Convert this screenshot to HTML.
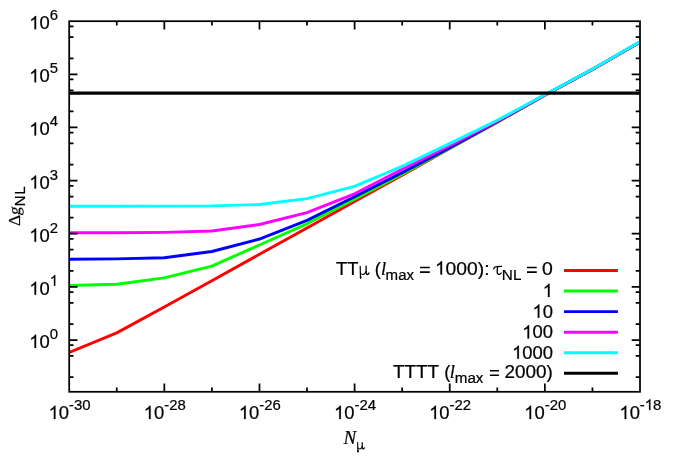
<!DOCTYPE html>
<html><head><meta charset="utf-8"><title>plot</title>
<style>html,body{margin:0;padding:0;background:#fff;overflow:hidden}svg{display:block;will-change:transform}text{font-family:"Liberation Sans",sans-serif;fill:#000;stroke:#000;stroke-width:0.22px;stroke-linejoin:round}.se{font-family:"Liberation Serif",serif}.it{font-family:"Liberation Serif",serif;font-style:italic}</style></head><body>
<svg width="674" height="471" viewBox="0 0 674 471">
<rect x="0" y="0" width="674" height="471" fill="#ffffff"/>
<defs><path id="one" d="M763 0H583V1147Q518 1085 412.5 1023Q307 961 223 930V1104Q374 1175 487 1276Q600 1377 647 1472H763Z" fill="#000" stroke="#000" stroke-linejoin="round"/><g id="mu" fill="none" stroke="#000" stroke-linecap="round" stroke-linejoin="round"><path d="M0.6,-8.3L0.78,-1C0.82,0.6 0.9,2.3 1.0,3.4" stroke-width="1.2"/><path d="M0.95,2.2L1.05,3.5" stroke-width="1.6"/><path d="M0.78,-2C0.95,-0.6 2.0,0 3.2,0C4.6,0 5.8,-1.4 6.35,-3.2" stroke-width="1.05"/><path d="M6.5,-8.3L6.6,-1.7C6.65,-0.45 7.1,-0.05 7.8,-0.05C8.5,-0.05 9.0,-0.6 9.3,-1.6" stroke-width="1.3"/></g><g id="mus" fill="none" stroke="#000" stroke-linecap="round" stroke-linejoin="round"><path d="M0.6,-8.3L0.78,-1C0.82,0.6 0.9,2.3 1.0,3.4" stroke-width="1.45"/><path d="M0.95,2.2L1.05,3.5" stroke-width="1.9"/><path d="M0.78,-2C0.95,-0.6 2.0,0 3.2,0C4.6,0 5.8,-1.4 6.35,-3.2" stroke-width="1.3"/><path d="M6.5,-8.3L6.6,-1.7C6.65,-0.45 7.1,-0.05 7.8,-0.05C8.5,-0.05 9.0,-0.6 9.3,-1.6" stroke-width="1.55"/></g><g id="tau" fill="none" stroke="#000" stroke-linecap="round" stroke-linejoin="round"><path d="M0.45,-5.7C0.95,-7.2 1.8,-7.85 3.2,-7.9L8.3,-8.25" stroke-width="1.35"/><path d="M4.4,-7.7C4.1,-5.5 3.9,-3.6 4.0,-2.3C4.1,-0.7 4.9,-0.1 5.9,-0.1C6.9,-0.1 7.6,-0.6 8.0,-1.5" stroke-width="1.3"/></g></defs>
<clipPath id="cp"><rect x="69.2" y="21.2" width="570.80" height="370.60"/></clipPath>
<g clip-path="url(#cp)" fill="none" stroke-linejoin="round" stroke-linecap="butt">
<polyline points="69.20,352.40 116.77,332.90 164.33,307.05 211.90,280.70 259.47,254.30 307.03,227.95 354.60,201.55 402.17,175.30 449.73,148.50 497.30,122.10 544.87,95.10 592.43,69.45 640.00,42.10" stroke="#ff0000" stroke-width="2.95"/>
<polyline points="69.20,285.50 116.77,284.30 164.33,277.90 211.90,266.10 259.47,245.00 307.03,223.80 354.60,199.20 402.17,174.20 449.73,148.20 497.30,122.00 544.87,95.08 592.43,69.43 640.00,42.08" stroke="#00ff00" stroke-width="2.95"/>
<polyline points="69.20,259.30 116.77,258.90 164.33,257.70 211.90,251.55 259.47,239.05 307.03,220.40 354.60,196.80 402.17,172.60 449.73,147.80 497.30,121.80 544.87,95.05 592.43,69.42 640.00,42.06" stroke="#0000ff" stroke-width="2.95"/>
<polyline points="69.20,232.80 116.77,232.80 164.33,232.40 211.90,231.00 259.47,224.55 307.03,212.65 354.60,193.80 402.17,169.30 449.73,145.80 497.30,121.30 544.87,95.00 592.43,69.40 640.00,42.05" stroke="#ff00ff" stroke-width="2.95"/>
<polyline points="69.20,206.20 116.77,206.20 164.33,206.10 211.90,205.90 259.47,204.50 307.03,198.65 354.60,186.40 402.17,166.30 449.73,143.70 497.30,120.30 544.87,94.80 592.43,69.25 640.00,41.90" stroke="#00ffff" stroke-width="2.95"/>
<line x1="69.2" y1="93.1" x2="640.0" y2="93.1" stroke="#000" stroke-width="3.1"/>
</g>
<path d="M116.77,391.8v-4.3M116.77,21.2v4.3M164.33,391.8v-8.3M164.33,21.2v8.3M211.90,391.8v-4.3M211.90,21.2v4.3M259.47,391.8v-8.3M259.47,21.2v8.3M307.03,391.8v-4.3M307.03,21.2v4.3M354.60,391.8v-8.3M354.60,21.2v8.3M402.17,391.8v-4.3M402.17,21.2v4.3M449.73,391.8v-8.3M449.73,21.2v8.3M497.30,391.8v-4.3M497.30,21.2v4.3M544.87,391.8v-8.3M544.87,21.2v8.3M592.43,391.8v-4.3M592.43,21.2v4.3M69.2,377.14h4.3M640.0,377.14h-4.3M69.2,355.99h4.3M640.0,355.99h-4.3M69.2,345.15h4.3M640.0,345.15h-4.3M69.2,340.00h8.3M640.0,340.00h-8.3M69.2,324.01h4.3M640.0,324.01h-4.3M69.2,302.86h4.3M640.0,302.86h-4.3M69.2,292.02h4.3M640.0,292.02h-4.3M69.2,286.87h8.3M640.0,286.87h-8.3M69.2,270.87h4.3M640.0,270.87h-4.3M69.2,249.73h4.3M640.0,249.73h-4.3M69.2,238.88h4.3M640.0,238.88h-4.3M69.2,233.73h8.3M640.0,233.73h-8.3M69.2,217.74h4.3M640.0,217.74h-4.3M69.2,196.59h4.3M640.0,196.59h-4.3M69.2,185.75h4.3M640.0,185.75h-4.3M69.2,180.60h8.3M640.0,180.60h-8.3M69.2,164.61h4.3M640.0,164.61h-4.3M69.2,143.46h4.3M640.0,143.46h-4.3M69.2,132.62h4.3M640.0,132.62h-4.3M69.2,127.47h8.3M640.0,127.47h-8.3M69.2,111.47h4.3M640.0,111.47h-4.3M69.2,90.33h4.3M640.0,90.33h-4.3M69.2,79.48h4.3M640.0,79.48h-4.3M69.2,74.33h8.3M640.0,74.33h-8.3M69.2,58.34h4.3M640.0,58.34h-4.3M69.2,37.19h4.3M640.0,37.19h-4.3M69.2,26.35h4.3M640.0,26.35h-4.3" stroke="#000" stroke-width="1.75" fill="none"/>
<rect x="69.2" y="21.2" width="570.80" height="370.60" fill="none" stroke="#000" stroke-width="1.75"/>
<use href="#one" transform="translate(48.60,419.00) scale(0.008984,-0.008984)" stroke-width="24.5"/><text x="58.83" y="419.00" font-size="18.4">0</text>
<text x="69.07" y="409.90" font-size="14.9">-30</text>
<use href="#one" transform="translate(143.74,419.00) scale(0.008984,-0.008984)" stroke-width="24.5"/><text x="153.97" y="419.00" font-size="18.4">0</text>
<text x="164.20" y="409.90" font-size="14.9">-28</text>
<use href="#one" transform="translate(238.87,419.00) scale(0.008984,-0.008984)" stroke-width="24.5"/><text x="249.10" y="419.00" font-size="18.4">0</text>
<text x="259.33" y="409.90" font-size="14.9">-26</text>
<use href="#one" transform="translate(334.00,419.00) scale(0.008984,-0.008984)" stroke-width="24.5"/><text x="344.23" y="419.00" font-size="18.4">0</text>
<text x="354.47" y="409.90" font-size="14.9">-24</text>
<use href="#one" transform="translate(429.14,419.00) scale(0.008984,-0.008984)" stroke-width="24.5"/><text x="439.37" y="419.00" font-size="18.4">0</text>
<text x="449.60" y="409.90" font-size="14.9">-22</text>
<use href="#one" transform="translate(524.27,419.00) scale(0.008984,-0.008984)" stroke-width="24.5"/><text x="534.50" y="419.00" font-size="18.4">0</text>
<text x="544.73" y="409.90" font-size="14.9">-20</text>
<use href="#one" transform="translate(619.40,419.00) scale(0.008984,-0.008984)" stroke-width="24.5"/><text x="629.63" y="419.00" font-size="18.4">0</text>
<text x="639.87" y="409.90" font-size="14.9">-</text><use href="#one" transform="translate(644.83,409.90) scale(0.007275,-0.007275)" stroke-width="30.2"/><text x="653.11" y="409.90" font-size="14.9">8</text>
<use href="#one" transform="translate(29.25,348.00) scale(0.008984,-0.008984)" stroke-width="24.5"/><text x="39.49" y="348.00" font-size="18.4">0</text>
<text x="49.72" y="338.90" font-size="14.9">0</text>
<use href="#one" transform="translate(29.25,294.87) scale(0.008984,-0.008984)" stroke-width="24.5"/><text x="39.49" y="294.87" font-size="18.4">0</text>
<use href="#one" transform="translate(49.72,285.77) scale(0.007275,-0.007275)" stroke-width="30.2"/>
<use href="#one" transform="translate(29.25,241.73) scale(0.008984,-0.008984)" stroke-width="24.5"/><text x="39.49" y="241.73" font-size="18.4">0</text>
<text x="49.72" y="232.63" font-size="14.9">2</text>
<use href="#one" transform="translate(29.25,188.60) scale(0.008984,-0.008984)" stroke-width="24.5"/><text x="39.49" y="188.60" font-size="18.4">0</text>
<text x="49.72" y="179.50" font-size="14.9">3</text>
<use href="#one" transform="translate(29.25,135.47) scale(0.008984,-0.008984)" stroke-width="24.5"/><text x="39.49" y="135.47" font-size="18.4">0</text>
<text x="49.72" y="126.37" font-size="14.9">4</text>
<use href="#one" transform="translate(29.25,82.33) scale(0.008984,-0.008984)" stroke-width="24.5"/><text x="39.49" y="82.33" font-size="18.4">0</text>
<text x="49.72" y="73.23" font-size="14.9">5</text>
<use href="#one" transform="translate(29.25,29.20) scale(0.008984,-0.008984)" stroke-width="24.5"/><text x="39.49" y="29.20" font-size="18.4">0</text>
<text x="49.72" y="20.10" font-size="14.9">6</text>
<text x="343.6" y="443.9" font-size="19.0" class="it">N</text>
<use href="#mus" transform="translate(357.2,449.0) scale(0.77)"/>
<text transform="translate(19.5,226.0) rotate(-90)" font-size="17.4" class="se">Δ</text>
<text transform="translate(20.3,215.6) rotate(-90) skewX(-9)" font-size="16.5" class="se">g</text>
<text transform="translate(25.000000000000004,206.6) rotate(-90)" font-size="15.3" letter-spacing="0.9">NL</text>
<line x1="564.0" y1="270.4" x2="617.9" y2="270.4" stroke="#ff0000" stroke-width="2.95"/>
<line x1="564.0" y1="290.9" x2="617.9" y2="290.9" stroke="#00ff00" stroke-width="2.95"/>
<line x1="564.0" y1="311.6" x2="617.9" y2="311.6" stroke="#0000ff" stroke-width="2.95"/>
<line x1="564.0" y1="332.3" x2="617.9" y2="332.3" stroke="#ff00ff" stroke-width="2.95"/>
<line x1="564.0" y1="352.7" x2="617.9" y2="352.7" stroke="#00ffff" stroke-width="2.95"/>
<line x1="564.0" y1="373.3" x2="617.9" y2="373.3" stroke="#000000" stroke-width="2.95"/>
<text x="336.05" y="274.55" font-size="18.4">TT</text>
<use href="#mu" transform="translate(359.6,274.55)"/>
<text x="374.70" y="274.55" font-size="18.4">(</text>
<text x="381.02" y="274.55" font-size="18.4" class="it">l</text>
<text transform="translate(385.62,279.85) scale(1.0101,1)" font-size="14.9">max</text>
<path d="M420.10,267.55H429.80M420.10,272.10H429.80" stroke="#000" stroke-width="1.55" fill="none"/>
<use href="#one" transform="translate(434.90,274.55) scale(0.009410,-0.008984)" stroke-width="24.5"/><text transform="translate(445.61,274.55) scale(1.0474,1)" font-size="18.4">000</text>
<text transform="translate(477.76,274.55) scale(1.0474,1)" font-size="18.4">):</text>
<use href="#tau" transform="translate(493.2,274.55)"/>
<text transform="translate(501.84,279.85) scale(1.0286,1)" font-size="14.9">NL</text>
<path d="M527.00,267.55H536.80M527.00,272.10H536.80" stroke="#000" stroke-width="1.55" fill="none"/>
<text transform="translate(542.04,274.55) scale(1.0556,1)" font-size="18.4">0</text>
<use href="#one" transform="translate(542.72,297.05) scale(0.008984,-0.008984)" stroke-width="24.5"/>
<use href="#one" transform="translate(532.49,317.75) scale(0.008984,-0.008984)" stroke-width="24.5"/><text x="542.72" y="317.75" font-size="18.4">0</text>
<use href="#one" transform="translate(522.26,338.45) scale(0.008984,-0.008984)" stroke-width="24.5"/><text x="532.49" y="338.45" font-size="18.4">00</text>
<use href="#one" transform="translate(512.03,358.85) scale(0.008984,-0.008984)" stroke-width="24.5"/><text x="522.26" y="358.85" font-size="18.4">000</text>
<text transform="translate(392.94,377.75) scale(1.0254,1)" font-size="18.4">TTTT</text>
<text x="444.30" y="377.75" font-size="18.4">(</text>
<text x="449.82" y="377.75" font-size="18.4" class="it">l</text>
<text transform="translate(454.81,383.05) scale(1.0175,1)" font-size="14.9">max</text>
<path d="M489.90,370.75H498.90M489.90,375.30H498.90" stroke="#000" stroke-width="1.55" fill="none"/>
<text transform="translate(504.60,377.75) scale(1.0260,1)" font-size="18.4">2000)</text>
</svg></body></html>
